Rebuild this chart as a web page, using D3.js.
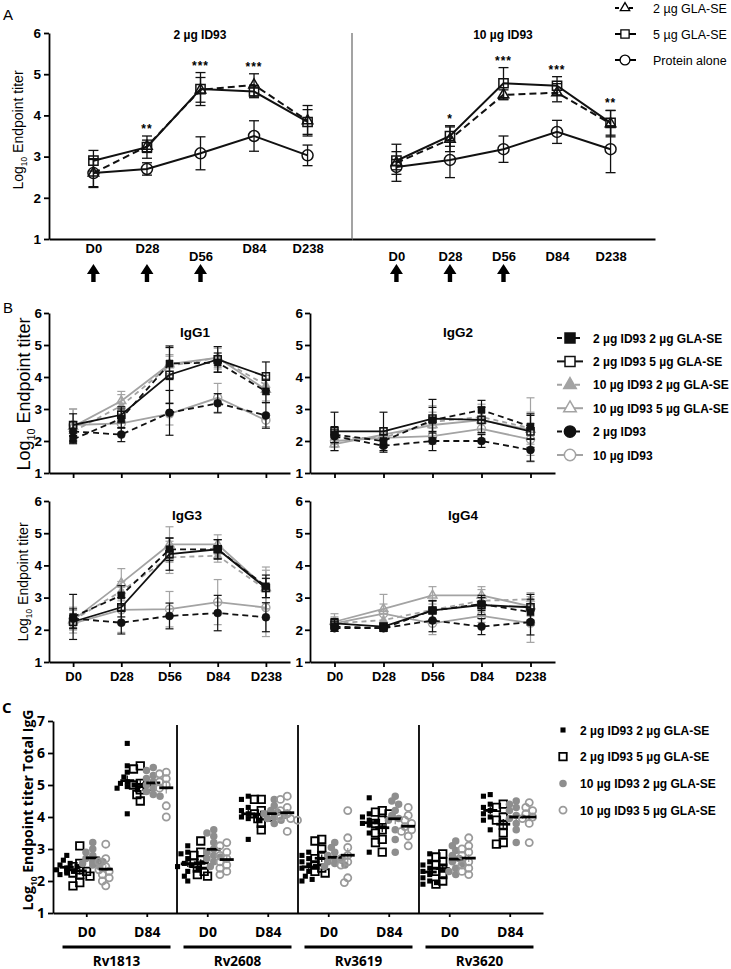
<!DOCTYPE html>
<html>
<head>
<meta charset="utf-8">
<script src="https://cdn.jsdelivr.net/npm/d3@7"></script>
<style>
  body { margin: 0; background: #fff; }
  svg { display: block; }
  text { font-family: "Liberation Sans", Arial, sans-serif; fill: #000; }
  .narrow { font-family: "Liberation Sans Narrow", "Liberation Sans", Arial, sans-serif; font-weight: bold; }
  .segoe { font-family: "Open Sans", "Liberation Sans", sans-serif; font-weight: bold; }
</style>
</head>
<body>
<div id="chart"></div>
<script>
// ---------- data ----------
const days = ["D0", "D28", "D56", "D84", "D238"];
const arrowDays = ["D0", "D28", "D56"];

// Panel A : total IgG, two ID93 doses
const doseA = ["2 µg ID93", "10 µg ID93"];
const seriesA = ["2 µg GLA-SE", "5 µg GLA-SE", "Protein alone"];
const aLowVals = [[2.60, 3.25, 4.62, 4.74, 3.87], [2.90, 3.23, 4.64, 4.58, 3.84], [2.60, 2.70, 3.08, 3.50, 3.03]];
const aLowErr = [[0.35, 0.15, 0.30, 0.27, 0.37], [0.25, 0.27, 0.40, 0.15, 0.30], [0.33, 0.15, 0.40, 0.37, 0.25]];
const aHighVals = [[2.85, 3.42, 4.50, 4.55, 3.80], [2.90, 3.50, 4.78, 4.72, 3.82], [2.75, 2.92, 3.18, 3.60, 3.18]];
const aHighErr = [[0.45, 0.30, 0.12, 0.22, 0.32], [0.22, 0.25, 0.38, 0.22, 0.30], [0.18, 0.43, 0.32, 0.28, 0.57]];
const aLowStars = ["", "**", "***", "***", ""];
const aHighStars = ["", "*", "***", "***", "**"];

// Panel B : IgG subclasses
const seriesB = ["2 µg ID93 2 µg GLA-SE", "2 µg ID93 5 µg GLA-SE", "10 µg ID93 2 µg GLA-SE",
                 "10 µg ID93 5 µg GLA-SE", "2 µg ID93", "10 µg ID93"];
const subclasses = ["IgG1", "IgG2", "IgG3", "IgG4"];
const igg1Vals = [[2.05, 2.70, 4.42, 4.45, 3.55], [2.50, 2.82, 4.07, 4.55, 4.02], [2.30, 3.10, 4.35, 4.60, 3.75],
                  [2.45, 3.25, 4.40, 4.60, 3.60], [2.30, 2.20, 2.88, 3.18, 2.80], [2.50, 2.55, 2.85, 3.35, 2.65]];
const igg1Err = [[0.12, 0.30, 0.50, 0.30, 0.35], [0.35, 0.25, 0.90, 0.40, 0.45], [0.30, 0.35, 0.30, 0.30, 0.30],
                 [0.55, 0.30, 0.30, 0.35, 0.35], [0.30, 0.22, 0.70, 0.30, 0.40], [0.50, 0.30, 0.35, 0.45, 0.20]];
const igg2Vals = [[2.20, 2.00, 2.65, 2.97, 2.45], [2.30, 2.30, 2.70, 2.66, 2.30], [2.10, 2.10, 2.60, 2.75, 2.40],
                  [1.90, 2.20, 2.50, 2.65, 2.35], [2.15, 1.85, 2.00, 2.00, 1.72], [2.00, 2.10, 2.15, 2.38, 2.05]];
const igg2Err = [[0.25, 0.20, 0.40, 0.30, 0.40], [0.60, 0.60, 0.60, 0.40, 0.50], [0.20, 0.30, 0.50, 0.40, 0.50],
                 [0.20, 0.20, 0.40, 0.40, 1.00], [0.20, 0.20, 0.30, 0.20, 0.35], [0.20, 0.20, 0.25, 0.30, 0.50]];
const igg3Vals = [[2.40, 3.07, 4.50, 4.50, 3.35], [2.25, 2.70, 4.35, 4.50, 3.30], [2.30, 3.20, 4.25, 4.30, 3.25],
                  [2.30, 3.45, 4.65, 4.65, 3.30], [2.35, 2.22, 2.43, 2.52, 2.39], [2.20, 2.62, 2.64, 2.86, 2.69]];
const igg3Err = [[0.70, 0.30, 0.35, 0.30, 0.35], [0.20, 0.30, 0.50, 0.30, 0.30], [0.30, 0.30, 0.50, 0.20, 0.60],
                 [0.40, 0.45, 0.55, 0.30, 0.65], [0.30, 0.35, 0.40, 0.55, 0.45], [0.20, 0.70, 0.55, 0.70, 0.90]];
const igg4Vals = [[2.10, 2.05, 2.60, 2.80, 2.55], [2.20, 2.10, 2.60, 2.77, 2.70], [2.20, 2.30, 2.62, 2.90, 2.95],
                  [2.25, 2.65, 3.07, 3.07, 2.73], [2.05, 2.05, 2.29, 2.10, 2.24], [2.20, 2.50, 2.20, 2.43, 2.21]];
const igg4Err = [[0.15, 0.10, 0.30, 0.20, 0.40], [0.15, 0.10, 0.30, 0.30, 0.40], [0.20, 0.20, 0.30, 0.35, 0.20],
                 [0.25, 0.45, 0.27, 0.27, 0.30], [0.10, 0.10, 0.35, 0.25, 0.40], [0.15, 0.30, 0.35, 0.20, 0.60]];

// Panel C : total IgG per antigen, individual animals
const antigens = ["Rv1813", "Rv2608", "Rv3619", "Rv3620"];
const daysC = ["D0", "D84"];
const groupsC = ["2 µg ID93 2 µg GLA-SE", "2 µg ID93 5 µg GLA-SE", "10 µg ID93 2 µg GLA-SE", "10 µg ID93 5 µg GLA-SE"];
const rv1813D0 = [[2.8, 2.65, 2.55, 2.5, 2.45, 2.4, 2.4, 2.35, 2.3, 2.3, 2.25, 2.2],
                  [3.1, 2.55, 2.45, 2.35, 2.3, 2.25, 2.2, 2.15, 1.95, 1.85],
                  [3.2, 3.0, 2.9, 2.8, 2.7, 2.65, 2.6, 2.6, 2.55, 2.5, 2.45],
                  [3.15, 2.7, 2.6, 2.45, 2.35, 2.3, 2.2, 2.1, 2.0, 1.85]];
const rv1813D84 = [[6.3, 5.6, 5.4, 5.25, 5.1, 5.05, 5.0, 4.95, 4.9, 4.85, 4.1],
                   [5.6, 5.5, 5.05, 5.0, 4.95, 4.85, 4.7, 4.5],
                   [5.55, 5.45, 5.3, 5.2, 5.1, 5.0, 4.9, 4.8, 4.7, 4.65],
                   [5.4, 5.35, 5.2, 5.1, 5.0, 4.9, 4.35, 4.0]];
const rv2608D0 = [[3.1, 2.9, 2.85, 2.7, 2.55, 2.5, 2.45, 2.4, 2.3, 2.15, 2.0],
                  [3.25, 2.9, 2.8, 2.65, 2.55, 2.5, 2.4, 2.3, 2.2, 2.15],
                  [3.6, 3.5, 3.4, 3.2, 3.0, 2.9, 2.8, 2.75, 2.7, 2.6, 2.45],
                  [3.2, 3.1, 2.9, 2.8, 2.7, 2.6, 2.5, 2.4, 2.3, 2.2]];
const rv2608D84 = [[4.65, 4.55, 4.3, 4.2, 4.1, 4.05, 4.0, 3.95, 3.9, 3.3],
                   [4.55, 4.55, 4.2, 4.1, 4.05, 4.0, 3.95, 3.8, 3.6],
                   [4.55, 4.35, 4.2, 4.15, 4.1, 4.05, 4.0, 3.95, 3.9, 3.8],
                   [4.65, 4.55, 4.3, 4.2, 4.1, 4.0, 3.95, 3.9, 3.55]];
const rv3619D0 = [[2.9, 2.8, 2.7, 2.6, 2.5, 2.45, 2.4, 2.3, 2.15, 2.05, 2.0],
                  [3.3, 3.25, 3.0, 2.8, 2.7, 2.6, 2.5, 2.4, 2.3, 2.25],
                  [3.2, 3.05, 2.9, 2.8, 2.7, 2.65, 2.6, 2.55, 2.5, 2.45],
                  [4.2, 3.35, 3.05, 2.8, 2.7, 2.6, 2.5, 2.1, 1.95]];
const rv3619D84 = [[4.6, 4.1, 4.0, 3.9, 3.85, 3.8, 3.75, 3.5, 2.9],
                   [4.2, 4.15, 4.1, 3.9, 3.8, 3.6, 3.5, 3.3, 3.2, 2.9],
                   [4.65, 4.5, 4.4, 4.2, 4.05, 3.95, 3.9, 3.6, 3.3, 2.9],
                   [4.3, 4.05, 3.9, 3.8, 3.7, 3.6, 3.55, 3.4, 3.1]];
const rv3620D0 = [[2.85, 2.6, 2.5, 2.4, 2.3, 2.2, 2.1, 2.0, 1.95, 1.9],
                  [2.85, 2.75, 2.6, 2.5, 2.4, 2.3, 2.2, 2.0, 1.9],
                  [3.25, 3.1, 2.95, 2.8, 2.7, 2.6, 2.55, 2.4, 2.3, 2.2],
                  [3.35, 3.1, 3.0, 2.9, 2.8, 2.6, 2.5, 2.4, 2.3, 2.2]];
const rv3620D84 = [[4.7, 4.65, 4.4, 4.3, 4.2, 4.1, 4.0, 3.9, 3.6],
                   [4.4, 4.3, 4.0, 3.9, 3.75, 3.5, 3.2, 3.15],
                   [4.5, 4.4, 4.3, 4.2, 4.05, 3.95, 3.8, 3.6, 3.2],
                   [4.45, 4.3, 4.2, 4.1, 4.0, 3.95, 3.8, 3.2]];

// ---------- setup ----------
const width = 731, height = 969;
const black = "#111", gray = "#a3a3a3";

const svg = d3.select("#chart").append("svg")
    .attr("width", width)
    .attr("height", height);

function styleAxis(g, size, cls) {
    g.selectAll("path, line").attr("stroke", "#000").attr("stroke-width", 1.8);
    g.selectAll("text").attr("class", cls).attr("font-size", size).attr("fill", "#000");
    g.attr("font-family", null);
}

function yLabel(x, y, size, cls, bold) {
    const t = svg.append("text")
        .attr("class", cls)
        .attr("transform", `translate(${x},${y}) rotate(-90)`)
        .attr("text-anchor", "middle")
        .attr("font-size", size)
        .attr("font-weight", bold ? "bold" : "normal");
    t.append("tspan").text("Log");
    t.append("tspan").attr("font-size", size * 0.6).attr("dy", size * 0.25).text("10");
    t.append("tspan").attr("dy", -size * 0.25).text(cls === "segoe" ? " Endpoint titer Total IgG" : " Endpoint titer");
}

function symbolPath(shape, size) {
    return d3.symbol().type(shape).size(size)();
}

function drawSeries(g, x, y, vals, errs, st, cap) {
    const pts = days.map((d, i) => ({d: d, v: vals[i], e: errs[i]}));
    const eb = g.append("g").attr("stroke", st.color).attr("stroke-width", st.ebw).attr("fill", "none");
    pts.forEach(function(p) {
        const cx = x(p.d);
        eb.append("line").attr("x1", cx).attr("x2", cx).attr("y1", y(p.v - p.e)).attr("y2", y(p.v + p.e));
        eb.append("line").attr("x1", cx - cap).attr("x2", cx + cap).attr("y1", y(p.v + p.e)).attr("y2", y(p.v + p.e));
        eb.append("line").attr("x1", cx - cap).attr("x2", cx + cap).attr("y1", y(p.v - p.e)).attr("y2", y(p.v - p.e));
    });
    g.append("path")
        .datum(pts)
        .attr("d", d3.line().x(p => x(p.d)).y(p => y(p.v)))
        .attr("fill", "none")
        .attr("stroke", st.color)
        .attr("stroke-width", st.lw)
        .attr("stroke-dasharray", st.dash);
    g.selectAll(null)
        .data(pts)
        .join("path")
        .attr("transform", p => `translate(${x(p.d)},${y(p.v)})`)
        .attr("d", symbolPath(st.shape, st.size))
        .attr("fill", st.filled ? st.color : "none")
        .attr("stroke", st.color)
        .attr("stroke-width", st.filled ? 0.5 : 1.5);
}

// ---------- panel letters ----------
svg.append("text").attr("x", 3).attr("y", 20).attr("font-size", 15).text("A");
svg.append("text").attr("x", 3).attr("y", 313).attr("font-size", 15).text("B");
svg.append("text").attr("x", 2).attr("y", 713).attr("font-size", 15).attr("class", "segoe").attr("font-weight", "normal").text("C");

// ---------- Panel A ----------
const yA = d3.scaleLinear().domain([1, 6]).range([239, 33]);
const xALow = d3.scalePoint().domain(days).range([49, 352]).padding(0.83);
const xAHigh = d3.scalePoint().domain(days).range([352, 655]).padding(0.83);

const stylesA = [
    {shape: d3.symbolTriangle, size: 48, filled: false, dash: "7,4", color: black, lw: 2, ebw: 1.3},
    {shape: d3.symbolSquare, size: 85, filled: false, dash: null, color: black, lw: 2, ebw: 1.3},
    {shape: d3.symbolCircle, size: 95, filled: false, dash: null, color: black, lw: 2, ebw: 1.3}
];

svg.append("g")
    .attr("transform", "translate(49,0)")
    .call(d3.axisLeft(yA).tickValues([1, 2, 3, 4, 5, 6]).tickFormat(d3.format("d")).tickSize(5).tickSizeOuter(0).tickPadding(3))
    .call(g => styleAxis(g, 13.5, "narrow"));

const axALow = svg.append("g")
    .attr("transform", "translate(0,239)")
    .call(d3.axisBottom(xALow).tickSize(0).tickSizeOuter(0).tickPadding(5))
    .call(g => styleAxis(g, 13, "narrow"));
axALow.selectAll(".tick text").filter(d => d === "D56").attr("y", 13);

svg.append("g")
    .attr("transform", "translate(0,239)")
    .call(d3.axisBottom(xAHigh).tickSize(0).tickSizeOuter(0).tickPadding(13))
    .call(g => styleAxis(g, 13, "narrow"));

// divider between the two doses
svg.append("line")
    .attr("x1", 352).attr("x2", 352)
    .attr("y1", yA(6)).attr("y2", yA(1))
    .attr("stroke", "#666").attr("stroke-width", 1.2);

[[xALow, aLowVals, aLowErr, aLowStars, doseA[0], 200], [xAHigh, aHighVals, aHighErr, aHighStars, doseA[1], 503]]
    .forEach(function([x, vals, errs, stars, title, tx]) {
        const g = svg.append("g");
        [2, 0, 1].forEach(i => drawSeries(g, x, yA, vals[i], errs[i], stylesA[i], 5));

        svg.append("text")
            .attr("x", tx).attr("y", 39)
            .attr("text-anchor", "middle")
            .attr("font-size", 12).attr("font-weight", "bold")
            .text(title);

        days.forEach(function(d, j) {
            if (!stars[j]) return;
            const top = d3.max(vals, (s, i) => s[j] + errs[i][j]);
            svg.append("text")
                .attr("x", x(d)).attr("y", yA(top) - 3)
                .attr("text-anchor", "middle")
                .attr("font-size", 12).attr("font-weight", "bold")
                .attr("letter-spacing", 1)
                .text(stars[j]);
        });

        // immunisation arrows
        arrowDays.forEach(function(d) {
            const cx = x(d);
            svg.append("path")
                .attr("d", `M${cx},264 L${cx + 6.5},274 L${cx + 2.2},274 L${cx + 2.2},282 L${cx - 2.2},282 L${cx - 2.2},274 L${cx - 6.5},274 Z`)
                .attr("fill", "#000");
        });
    });

yLabel(23, 130, 14, "", false);

// legend A
const legA = svg.append("g");
seriesA.forEach(function(s, i) {
    const y = 8 + i * 26;
    const st = stylesA[i];
    legA.append("line").attr("x1", 615).attr("x2", 636).attr("y1", y).attr("y2", y)
        .attr("stroke", "#000").attr("stroke-width", 2).attr("stroke-dasharray", st.dash ? "4,3" : null);
    legA.append("path").attr("transform", `translate(625,${y})`)
        .attr("d", symbolPath(st.shape, st.size * 0.8))
        .attr("fill", "#fff").attr("stroke", "#000").attr("stroke-width", 1.3);
    legA.append("text").attr("x", 653).attr("y", y + 4.5)
        .attr("font-size", 12.5).attr("fill", "#222").text(s);
});

// ---------- Panel B ----------
const stylesB = [
    {shape: d3.symbolSquare, size: 50, filled: true, dash: "6,4", color: black, lw: 1.8, ebw: 1.2},
    {shape: d3.symbolSquare, size: 50, filled: false, dash: null, color: black, lw: 1.8, ebw: 1.2},
    {shape: d3.symbolTriangle, size: 34, filled: true, dash: "5,4", color: gray, lw: 1.8, ebw: 1.2},
    {shape: d3.symbolTriangle, size: 34, filled: false, dash: null, color: gray, lw: 1.8, ebw: 1.2},
    {shape: d3.symbolCircle, size: 50, filled: true, dash: "6,4", color: black, lw: 1.8, ebw: 1.2},
    {shape: d3.symbolCircle, size: 50, filled: false, dash: null, color: gray, lw: 1.8, ebw: 1.2}
];

const panelsB = [
    {vals: igg1Vals, errs: igg1Err, x0: 49, x1: 290, y0: 313, y1: 473, labels: false, tx: 195, ty: 337},
    {vals: igg2Vals, errs: igg2Err, x0: 310, x1: 555, y0: 313, y1: 473, labels: false, tx: 458, ty: 337},
    {vals: igg3Vals, errs: igg3Err, x0: 49, x1: 290, y0: 501, y1: 662, labels: true, tx: 187, ty: 520},
    {vals: igg4Vals, errs: igg4Err, x0: 310, x1: 555, y0: 501, y1: 662, labels: true, tx: 463, ty: 520}
];

panelsB.forEach(function(p, k) {
    const x = d3.scalePoint().domain(days).range([p.x0, p.x1]).padding(0.5);
    const y = d3.scaleLinear().domain([1, 6]).range([p.y1, p.y0]);

    svg.append("g")
        .attr("transform", `translate(${p.x0},0)`)
        .call(d3.axisLeft(y).tickValues([1, 2, 3, 4, 5, 6]).tickFormat(d3.format("d")).tickSize(5).tickSizeOuter(0).tickPadding(2))
        .call(g => styleAxis(g, 13.5, "narrow"));

    svg.append("g")
        .attr("transform", `translate(0,${p.y1})`)
        .call(d3.axisBottom(x).tickSize(5).tickSizeOuter(0).tickPadding(5).tickFormat(d => p.labels ? d : ""))
        .call(g => styleAxis(g, 13, "narrow"));

    svg.append("text")
        .attr("class", "narrow")
        .attr("x", p.tx).attr("y", p.ty)
        .attr("text-anchor", "middle")
        .attr("font-size", 13.5)
        .text(subclasses[k]);

    const g = svg.append("g");
    [3, 5, 2, 1, 4, 0].forEach(i => drawSeries(g, x, y, p.vals[i], p.errs[i], stylesB[i], 4));
});

yLabel(30, 394, 18, "", false);
yLabel(28, 582, 14, "", false);

// legend B
const legB = svg.append("g");
seriesB.forEach(function(s, i) {
    const y = 338 + i * 23.4;
    const st = stylesB[i];
    legB.append("line").attr("x1", 557).attr("x2", 583).attr("y1", y).attr("y2", y)
        .attr("stroke", st.color).attr("stroke-width", 2).attr("stroke-dasharray", st.dash ? "5,4" : null);
    legB.append("path").attr("transform", `translate(570,${y})`)
        .attr("d", symbolPath(st.shape, st.size * 2))
        .attr("fill", st.filled ? st.color : "#fff").attr("stroke", st.color).attr("stroke-width", 1.5);
    legB.append("text").attr("x", 593).attr("y", y + 4.5)
        .attr("font-size", 12).attr("font-weight", "bold").text(s);
});

// ---------- Panel C ----------
const tableC = [[rv1813D0, rv1813D84], [rv2608D0, rv2608D84], [rv3619D0, rv3619D84], [rv3620D0, rv3620D84]];
const keysC = [];
antigens.forEach(a => daysC.forEach(d => keysC.push(a + "|" + d)));

const yC = d3.scaleLinear().domain([1, 7]).range([913, 721]);
const xC = d3.scalePoint().domain(keysC).range([53, 543]).padding(0.55);
const gOff = d3.scaleBand().domain(groupsC).range([-26, 26]);

const stylesC = [
    {shape: d3.symbolSquare, size: 26, filled: true, color: "#000"},
    {shape: d3.symbolSquare, size: 56, filled: false, color: "#000"},
    {shape: d3.symbolCircle, size: 44, filled: true, color: "#8e8e8e"},
    {shape: d3.symbolCircle, size: 40, filled: false, color: "#9a9a9a"}
];

svg.append("g")
    .attr("transform", "translate(53,0)")
    .call(d3.axisLeft(yC).tickValues([1, 2, 3, 4, 5, 6, 7]).tickFormat(d3.format("d")).tickSize(5).tickSizeOuter(0).tickPadding(3))
    .call(g => styleAxis(g, 14, "segoe"));

svg.append("g")
    .attr("transform", "translate(0,913)")
    .call(d3.axisBottom(xC).tickSize(4).tickSizeOuter(0).tickPadding(10).tickFormat(k => k.split("|")[1]))
    .call(g => styleAxis(g, 14, "segoe"));

// dividers and antigen bars
antigens.forEach(function(a, i) {
    const mid = (xC(a + "|D0") + xC(a + "|D84")) / 2;
    svg.append("line").attr("x1", mid - 54).attr("x2", mid + 54).attr("y1", 947).attr("y2", 947)
        .attr("stroke", "#000").attr("stroke-width", 3);
    svg.append("text").attr("class", "segoe").attr("x", mid).attr("y", 966)
        .attr("text-anchor", "middle").attr("font-size", 13.5).text(a);
    if (i > 0) {
        const dx = (xC(antigens[i - 1] + "|D84") + xC(a + "|D0")) / 2;
        svg.append("line").attr("x1", dx).attr("x2", dx).attr("y1", 725).attr("y2", 913)
            .attr("stroke", "#000").attr("stroke-width", 1.8);
    }
});

function spread(vals, cx, step) {
    const placed = [];
    return vals.map(v => ({v: v, py: yC(v)}))
        .sort((a, b) => a.py - b.py)
        .map(function(p) {
            for (const k of [0, -1, 1, -2, 2, -3, 3]) {
                const dx = k * step;
                if (!placed.some(q => Math.hypot(q.py - p.py, q.dx - dx) < step * 1.5)) {
                    p.dx = dx;
                    placed.push(p);
                    return p;
                }
            }
            p.dx = 0;
            placed.push(p);
            return p;
        })
        .map(p => ({v: p.v, x: cx + p.dx, y: p.py}));
}

tableC.forEach(function(pair, ai) {
    pair.forEach(function(groups, di) {
        const base = xC(antigens[ai] + "|" + daysC[di]);
        groups.forEach(function(vals, gi) {
            const st = stylesC[gi];
            const cx = base + gOff(groupsC[gi]) + gOff.bandwidth() / 2;
            const pts = spread(vals, cx, 3.4);
            svg.append("g").selectAll("path")
                .data(pts)
                .join("path")
                .attr("transform", p => `translate(${p.x},${p.y})`)
                .attr("d", symbolPath(st.shape, st.size))
                .attr("fill", st.filled ? st.color : "#fff")
                .attr("fill-opacity", st.filled ? 1 : 0)
                .attr("stroke", st.color)
                .attr("stroke-width", st.filled ? 0 : 1.8);

            const m = d3.mean(vals);
            const sem = d3.deviation(vals) / Math.sqrt(vals.length);
            svg.append("line").attr("x1", cx).attr("x2", cx).attr("y1", yC(m - sem)).attr("y2", yC(m + sem))
                .attr("stroke", gi === 0 ? "#000" : st.color).attr("stroke-width", 1.2);
            svg.append("line").attr("x1", cx - 7).attr("x2", cx + 7).attr("y1", yC(m)).attr("y2", yC(m))
                .attr("stroke", "#000").attr("stroke-width", 2.8);
        });
    });
});

yLabel(33, 810, 14, "segoe", true);

// legend C
const legC = svg.append("g");
groupsC.forEach(function(s, i) {
    const y = 730 + i * 26.7;
    const st = stylesC[i];
    legC.append("path").attr("transform", `translate(563,${y})`)
        .attr("d", symbolPath(st.shape, st.size))
        .attr("fill", st.filled ? st.color : "none")
        .attr("stroke", st.color)
        .attr("stroke-width", st.filled ? 0 : 1.8);
    legC.append("text").attr("x", 580).attr("y", y + 4.5)
        .attr("font-size", 12).attr("font-weight", "bold").text(s);
});
</script>
</body>
</html>
